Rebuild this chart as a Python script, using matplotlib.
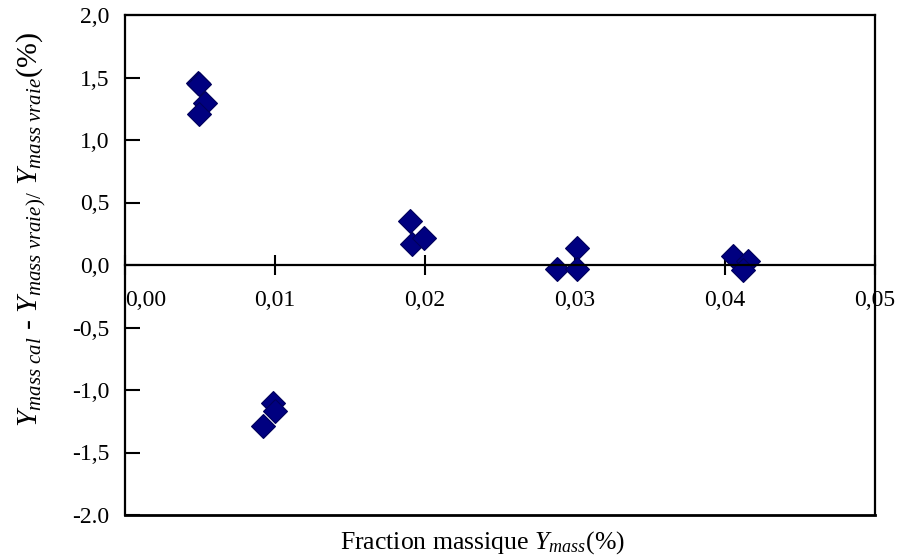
import matplotlib
matplotlib.use('Agg')
import matplotlib.pyplot as plt

plt.rcParams['font.family'] = 'Liberation Serif'
plt.rcParams['mathtext.fontset'] = 'custom'
plt.rcParams['mathtext.rm'] = 'Liberation Serif'
plt.rcParams['mathtext.it'] = 'Liberation Serif:italic'

# fraction massique (%) and relative error (%)
x_vals = [0.00487, 0.00493, 0.00533, 0.00493,
          0.00920, 0.00987, 0.01000,
          0.01900, 0.01910, 0.01990,
          0.02880, 0.03010, 0.03010,
          0.04050, 0.04150, 0.04120]
y_vals = [1.46, 1.45, 1.30, 1.21,
          -1.29, -1.10, -1.17,
          0.35, 0.17, 0.22,
          -0.03, 0.14, -0.03,
          0.07, 0.03, -0.04]

x_ticks = [0.00, 0.01, 0.02, 0.03, 0.04, 0.05]
x_labels = ['0,00', '0,01', '0,02', '0,03', '0,04', '0,05']
y_ticks = [-2.0, -1.5, -1.0, -0.5, 0.0, 0.5, 1.0, 1.5, 2.0]
y_labels = ['-2.0', '-1,5', '-1,0', '-0,5', '0,0', '0,5', '1,0', '1,5', '2,0']

fig = plt.figure(figsize=(8.99, 5.57), dpi=100)
ax = fig.add_axes([125/899, 42/557, 750/899, 500/557])

ax.plot(x_vals, y_vals, 'D', color='#000080', markeredgecolor='#00005a',
        markersize=12, markeredgewidth=0.8)

ax.set_xlim(0, 0.05)
ax.set_ylim(-2, 2)

# x axis through zero, frame kept with an extra bottom line
ax.spines['bottom'].set_position(('data', 0))
ax.plot([0, 1], [0, 0], color='black', lw=2, transform=ax.transAxes, clip_on=False)
for s in ['top', 'right', 'left', 'bottom']:
    ax.spines[s].set_linewidth(1.6)

ax.set_xticks(x_ticks)
ax.set_xticklabels(x_labels)
ax.set_yticks(y_ticks)
ax.set_yticklabels(y_labels)
ax.tick_params(axis='x', direction='inout', length=14, width=1.5, pad=11, labelsize=17)
ax.tick_params(axis='y', direction='in', length=11, width=1.5, pad=11, labelsize=17)
ax.get_xticklabels()[0].set_ha('left')

fig.text(482/899, 1 - 543/557, 'Fraction massique $Y_{mass}$(%)',
         fontsize=18.5, ha='center', va='center')
fig.text(31/899, 1 - 230/557,
         r'$Y_{mass\ cal}$ - $Y_{mass\ vraie)/}$ $Y_{mass\ vraie}$(%)',
         fontsize=21.5, rotation=90, ha='center', va='center')

fig.savefig('out.png', dpi=100)
